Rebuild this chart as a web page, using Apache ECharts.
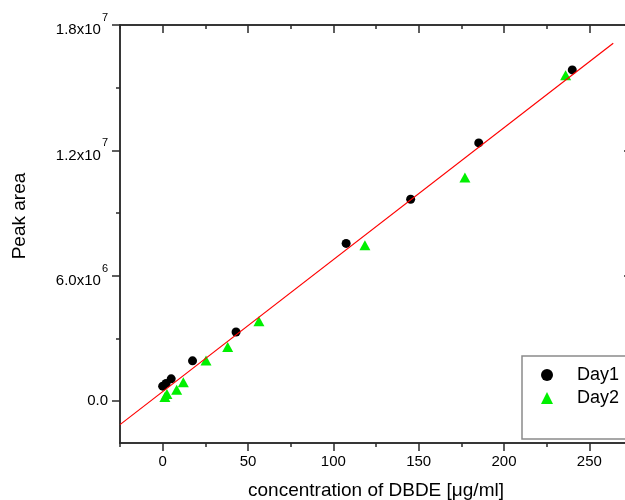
<!DOCTYPE html>
<html>
<head>
<meta charset="utf-8">
<script src="https://cdn.jsdelivr.net/npm/echarts@6/dist/echarts.min.js"></script>
<style>html,body{margin:0;padding:0;background:#fff}#c{width:625px;height:500px}</style>
</head>
<body>
<div id="c"></div>
<script>
// ---- data ----
var day1X = [0, 2, 5, 17.5, 43, 107.5, 145.3, 185.2, 240];
var day1Y = [0.72e6, 0.85e6, 1.07e6, 1.93e6, 3.31e6, 7.55e6, 9.66e6, 12.36e6, 15.85e6];
var day2X = [1.3, 2.5, 8.2, 12.1, 25.4, 38.1, 56.4, 118.5, 177.1, 236.1];
var day2Y = [0.2e6, 0.35e6, 0.55e6, 0.91e6, 1.95e6, 2.59e6, 3.82e6, 7.46e6, 10.7e6, 15.6e6];
var fitX = [-25, 264];
var fitY = [-1.12e6, 17.13e6];
var xTickValues = [0, 50, 100, 150, 200, 250];
var xTickLabels = ['0', '50', '100', '150', '200', '250'];
var xMinorTicks = [-25, 25, 75, 125, 175, 225, 275];
var yTickValues = [0, 6e6, 1.2e7, 1.8e7];
var yTickMantissa = ['0.0', '6.0x10', '1.2x10', '1.8x10'];
var yTickExponent = ['', '6', '7', '7'];
var yMinorTicks = [-3e6, 3e6, 9e6, 1.5e7];
var seriesNames = ['Day1', 'Day2'];
var seriesSymbols = ['circle', 'triangle'];

var FONT = 'Liberation Sans, Arial, sans-serif';
function pairs(xs, ys) { return xs.map(function (x, i) { return [x, ys[i]]; }); }
var axisLineStyle = { color: '#2a2a2a', width: 1.5 };

function xAx(pos, major, inside, withLabel) {
  var ax = {
    type: 'value', min: -25, max: 275, position: pos,
    axisLine: { show: true, onZero: false, lineStyle: axisLineStyle },
    axisTick: { show: true, inside: inside, length: major ? 8 : 4, lineStyle: axisLineStyle,
      customValues: major ? xTickValues : xMinorTicks },
    axisLabel: { show: false },
    splitLine: { show: false }
  };
  if (withLabel) {
    ax.axisLabel = { show: true, customValues: xTickValues, margin: 11, fontSize: 15, color: '#000', fontFamily: FONT,
      formatter: function (v) { var i = xTickValues.indexOf(v); return i >= 0 ? xTickLabels[i] : ''; } };
    ax.name = 'concentration of DBDE [\u03bcg/ml]';
    ax.nameLocation = 'middle';
    ax.nameGap = 38;
    ax.nameTextStyle = { fontSize: 19, color: '#000', fontFamily: FONT };
  }
  return ax;
}
function yAx(pos, major, inside, withLabel) {
  var ax = {
    type: 'value', min: -2e6, max: 1.8e7, position: pos,
    axisLine: { show: true, onZero: false, lineStyle: axisLineStyle },
    axisTick: { show: true, inside: inside, length: major ? 8 : 4, lineStyle: axisLineStyle,
      customValues: major ? yTickValues : yMinorTicks },
    axisLabel: { show: false },
    splitLine: { show: false }
  };
  if (withLabel) {
    ax.axisLabel = { show: true, customValues: yTickValues, margin: 12, color: '#000', fontFamily: FONT,
      formatter: function (v) {
        var i = yTickValues.indexOf(v);
        if (i < 0) return '';
        if (!yTickExponent[i]) return '{z|' + yTickMantissa[i] + '}';
        return '{m|' + yTickMantissa[i] + '}{e|' + yTickExponent[i] + '}';
      },
      rich: {
        z: { fontSize: 15, color: '#000', fontFamily: FONT },
        m: { fontSize: 15, lineHeight: 15, padding: [10, 0, 0, 0], color: '#000', fontFamily: FONT },
        e: { fontSize: 11, lineHeight: 11, padding: [0, 0, 14, 1], color: '#000', fontFamily: FONT }
      }
    };
  }
  return ax;
}

var chart = echarts.init(document.getElementById('c'), null, { renderer: 'canvas' });
chart.setOption({
  animation: false,
  backgroundColor: '#fff',
  grid: { left: 120, top: 25, width: 512, height: 418, containLabel: false, outerBoundsMode: 'none' },
  xAxis: [xAx('bottom', true, false, true), xAx('bottom', false, false, false),
          xAx('top', true, true, false), xAx('top', false, true, false)],
  yAxis: [yAx('left', true, false, true), yAx('left', false, false, false),
          yAx('right', true, true, false), yAx('right', false, true, false)],
  legend: {
    data: seriesNames.map(function (n, i) { return { name: n, icon: seriesSymbols[i] }; }),
    orient: 'vertical', left: 522, top: 356,
    itemWidth: 12, itemHeight: 12, itemGap: 5,
    padding: [10, 80, 32, 19],
    borderColor: '#8a8a8a', borderWidth: 1.5, backgroundColor: '#fff',
    textStyle: { fontSize: 18, color: '#000', fontFamily: FONT, padding: [0, 0, 0, 19] }
  },
  graphic: [{
    type: 'text', x: 20, y: 216, rotation: Math.PI / 2,
    style: { text: 'Peak area', fontSize: 19, fill: '#000', font: '19px ' + FONT, align: 'center', verticalAlign: 'middle' }
  }],
  series: [
    { name: seriesNames[0], type: 'scatter', data: pairs(day1X, day1Y), symbol: seriesSymbols[0], symbolSize: 9,
      itemStyle: { color: '#000', opacity: 1 }, z: 2 },
    { name: seriesNames[1], type: 'scatter', data: pairs(day2X, day2Y), symbol: seriesSymbols[1], symbolSize: [11, 10],
      itemStyle: { color: '#00f000', opacity: 1 }, z: 2 },
    { name: 'fit', type: 'line', data: pairs(fitX, fitY), showSymbol: false, symbol: 'none',
      lineStyle: { color: '#ff0000', width: 1.2 }, z: 3, silent: true }
  ]
});
</script>
</body>
</html>
